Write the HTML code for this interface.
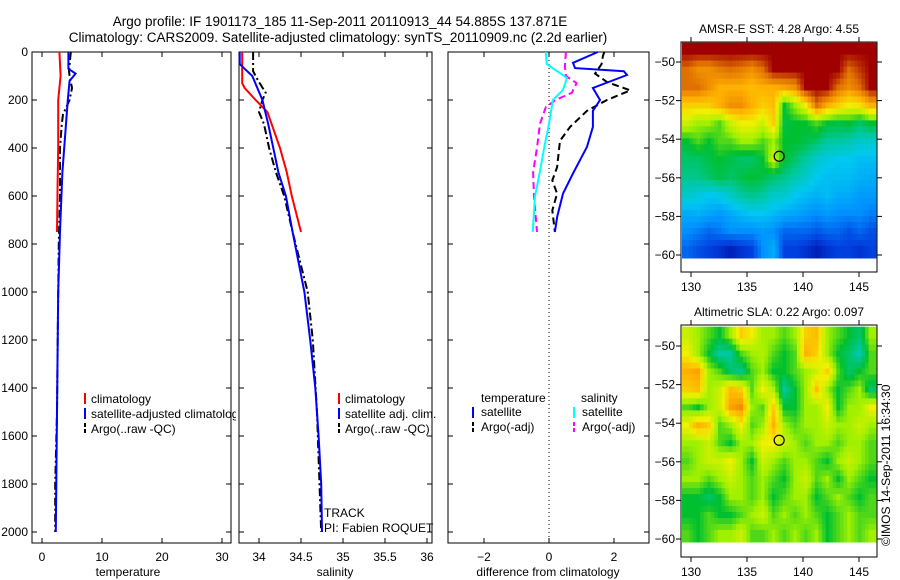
<!DOCTYPE html>
<html><head><meta charset="utf-8"><style>
html,body{margin:0;padding:0;background:#fff;}
svg{display:block;font-family:"Liberation Sans",sans-serif;}
</style></head><body>
<svg id="fig" width="900" height="580" viewBox="0 0 900 580">
<text x="340" y="26" font-size="13.5" text-anchor="middle">Argo profile: IF 1901173_185 11-Sep-2011 20110913_44 54.885S 137.871E</text>
<text x="338" y="42" font-size="13.5" text-anchor="middle">Climatology: CARS2009. Satellite-adjusted climatology: synTS_20110909.nc (2.2d earlier)</text>
<g id="g"></g>
</svg>
<script>
// ---------- DATA ----------
const tempClimDepth=[0,100,150,200,400,550,750];
const tempClimVal=[2.9,3.1,2.9,2.7,2.7,2.6,2.5];
const tempSatDepth=[0,70,90,120,200,300,500,750,1000,1500,2000];
const tempSatVal=[4.4,4.4,5.6,4.6,4.3,4.0,3.4,3.0,2.7,2.5,2.3];
const tempArgoDepth=[0,80,100,150,200,260,300,400,600,800,1000,1500,1800,2000];
const tempArgoVal=[4.8,4.5,4.6,5.0,4.6,3.5,3.3,3.0,3.0,2.8,2.7,2.5,2.2,2.2];
const salClimDepth=[0,130,150,200,250,400,500,600,750];
const salClimVal=[33.80,33.80,33.83,33.96,34.10,34.25,34.33,34.39,34.50];
const salSatDepth=[0,50,70,100,200,300,400,500,600,750,1000,1200,1400,1600,1800,2000];
const salSatVal=[33.77,33.77,33.83,33.92,34.04,34.11,34.17,34.23,34.32,34.40,34.54,34.61,34.67,34.71,34.74,34.75];
const salArgoDepth=[0,80,120,170,200,250,300,400,500,600,750,1000,1200,1500,1800,2000];
const salArgoVal=[33.93,33.93,33.99,34.08,34.04,34.00,34.06,34.12,34.20,34.30,34.40,34.58,34.64,34.69,34.72,34.74];
const dSalSatDepth=[0,50,108,158,200,300,400,500,600,750];
const dSalSatVal=[-0.1,-0.07,0.55,0.43,0.12,0.0,-0.15,-0.28,-0.43,-0.5];
const dSalArgoDepth=[0,60,100,130,170,200,230,300,400,500,600,700,750];
const dSalArgoVal=[0.52,0.49,0.52,0.85,0.7,0.2,-0.1,-0.28,-0.37,-0.49,-0.46,-0.4,-0.37];
const dTempSatDepth=[0,45,67,80,96,150,200,245,312,395,506,590,688,750];
const dTempSatVal=[1.5,0.74,0.8,2.3,2.4,1.35,1.57,1.35,1.35,1.17,0.74,0.43,0.25,0.18];
const dTempArgoDepth=[0,15,50,90,125,160,200,245,312,370,480,535,590,660,750];
const dTempArgoVal=[1.7,1.66,1.62,1.42,1.78,2.5,1.78,1.17,0.65,0.34,0.25,0.1,0.25,0.1,0.18];
const depthTicks=[0,200,400,600,800,1000,1200,1400,1600,1800,2000];
const tempTicks=[0,10,20,30];
const salTicks=[34,34.5,35,35.5,36];
const salTickLabels=["34","34.5","35","35.5","36"];
const diffTicks=[-2,0,2];
const latTicks=[-50,-52,-54,-56,-58,-60];
const lonTicks=[130,135,140,145];
const argoLon=137.871, argoLat=-54.885;
const sstGrid=[
[1,1,1,1,1,1,1,1,1,1,1,1,1,1,1,1,1,1],
[.9,.85,.85,.88,.9,.88,.85,.9,1,1,1,1,1,1,1,.9,.95,1],
[.9,.9,.85,.8,.8,.8,.78,.8,.8,.82,.85,1,1,1,.9,.85,.9,1],
[.75,.75,.75,.8,.85,.85,.8,.75,.78,.5,.6,.7,.9,.8,.75,.7,.72,.8],
[.65,.6,.6,.55,.65,.7,.7,.65,.75,.48,.5,.5,.55,.5,.48,.5,.45,.5],
[.5,.55,.5,.55,.55,.6,.6,.55,.6,.5,.5,.48,.45,.4,.4,.38,.35,.35],
[.45,.45,.48,.5,.48,.45,.45,.5,.65,.5,.45,.4,.35,.32,.3,.3,.28,.28],
[.42,.42,.45,.48,.45,.48,.5,.48,.45,.42,.38,.35,.3,.28,.28,.28,.26,.25],
[.35,.33,.3,.32,.35,.4,.42,.4,.35,.35,.3,.28,.26,.28,.25,.25,.22,.22],
[.25,.26,.24,.22,.25,.28,.3,.3,.28,.25,.24,.22,.2,.22,.2,.2,.2,.18],
[.2,.18,.15,.17,.2,.2,.2,.22,.2,.15,.15,.15,.13,.15,.15,.12,.15,.12],
[.15,.12,.1,.08,.05,.08,.1,.2,.25,.1,.1,.08,.05,.08,.1,.1,.08,.1]];
const slaGrid=[
[.65,.6,.55,.5,.6,.75,.7,.6,.6,.55,.6,.75,.78,.6,.55,.5,.45,.6],
[.7,.6,.5,.4,.4,.55,.6,.62,.55,.5,.55,.8,.75,.6,.5,.45,.38,.55],
[.8,.82,.6,.55,.45,.42,.55,.6,.5,.5,.55,.6,.65,.75,.55,.45,.5,.55],
[.75,.78,.6,.65,.78,.75,.55,.7,.62,.4,.5,.6,.78,.6,.5,.55,.6,.45],
[.55,.5,.6,.65,.82,.85,.6,.55,.75,.5,.5,.6,.6,.7,.5,.6,.6,.7],
[.7,.8,.75,.55,.6,.7,.55,.6,.8,.6,.55,.6,.6,.65,.6,.6,.65,.6],
[.6,.6,.65,.55,.5,.6,.6,.7,.7,.65,.6,.55,.6,.6,.55,.6,.6,.55],
[.55,.6,.65,.65,.7,.6,.5,.65,.6,.55,.6,.6,.55,.5,.6,.65,.6,.55],
[.6,.6,.55,.6,.65,.6,.55,.6,.55,.5,.6,.65,.55,.6,.5,.6,.55,.5],
[.5,.5,.45,.5,.6,.6,.55,.6,.5,.55,.6,.6,.5,.55,.6,.55,.5,.55],
[.5,.5,.55,.5,.5,.55,.6,.65,.55,.6,.55,.6,.55,.5,.55,.6,.55,.55],
[.55,.5,.55,.6,.6,.65,.55,.55,.6,.55,.6,.55,.6,.5,.55,.6,.55,.6]];

// ---------- HELPERS ----------
const NS="http://www.w3.org/2000/svg";
const G=document.getElementById('g');
function mk(tag,attrs,parent){const e=document.createElementNS(NS,tag);for(const k in attrs)e.setAttribute(k,attrs[k]);(parent||G).appendChild(e);return e;}
const depthY=d=>52+0.24*d;
const tempX=t=>42+6*t;
const salX=s=>259+84*(s-34);
const diffX=v=>549+32.5*v;
const PT=52,PB=543;

function panel(x0,x1,name){
  const r=mk('rect',{x:x0,y:PT,width:x1-x0,height:PB-PT,fill:'none',stroke:'#000','stroke-width':1});
  
  
  depthTicks.forEach(d=>{const y=depthY(d);mk('line',{x1:x0,x2:x0+5,y1:y,y2:y,stroke:'#000'});mk('line',{x1:x1,x2:x1-5,y1:y,y2:y,stroke:'#000'});});
}
function xticks(vals,labels,fx,name){
  vals.forEach((v,i)=>{const x=fx(v);mk('line',{x1:x,x2:x,y1:PT,y2:PT+5,stroke:'#000'});mk('line',{x1:x,x2:x,y1:PB,y2:PB-5,stroke:'#000'});
    const t=mk('text',{x:x,y:561,'font-size':12,'text-anchor':'middle'});t.textContent=labels[i];
    
    });
}
function series(dep,val,fx,color,dash,name){
  const pts=dep.map((d,i)=>fx(val[i]).toFixed(1)+','+depthY(d).toFixed(1)).join(' ');
  const p=mk('polyline',{points:pts,fill:'none',stroke:color,'stroke-width':2});
  if(dash)p.setAttribute('stroke-dasharray',dash);
  
  
}
function label(x,y,txt,name,opts){
  const t=mk('text',Object.assign({x:x,y:y,'font-size':12},opts||{}));t.textContent=txt;
  
  
  return t;
}
function legMark(x,y,color,dash){const l=mk('line',{x1:x,x2:x,y1:y-10,y2:y+1,stroke:color,'stroke-width':2});if(dash)l.setAttribute('stroke-dasharray',dash);}

// ---------- PANEL 1: temperature ----------
panel(32,231,'temperature-panel');
depthTicks.forEach(d=>{label(28,depthY(d)+4,String(d),'depth-tick-label',{'text-anchor':'end'});});
xticks(tempTicks,tempTicks.map(String),tempX,'temperature');
series(tempClimDepth,tempClimVal,tempX,'#f00',null,'temp-climatology-line');
series(tempArgoDepth,tempArgoVal,tempX,'#000','8,3,2,3','temp-argo-line');
series(tempSatDepth,tempSatVal,tempX,'#00f',null,'temp-satellite-line');
label(128,576,'temperature','temperature-axis-title',{'text-anchor':'middle'});
mk('clipPath',{id:'c1'});mk('rect',{x:32,y:52,width:204,height:500},document.getElementById('c1'));
const lg1=mk('g',{'clip-path':'url(#c1)'});
[['#f00',null,'climatology'],['#00f',null,'satellite-adjusted climatology'],['#000','4,2','Argo(..raw -QC)']].forEach((e,i)=>{
  const y=403+15*i;legMark(85,y,e[0],e[1]);
  const t=mk('text',{x:91,y:y,'font-size':12},lg1);t.textContent=e[2];
  
  
});

// ---------- PANEL 2: salinity ----------
panel(239,432,'salinity-panel');
xticks(salTicks,salTickLabels,salX,'salinity');
series(salClimDepth,salClimVal,salX,'#f00',null,'sal-climatology-line');
series(salArgoDepth,salArgoVal,salX,'#000','8,3,2,3','sal-argo-line');
series(salSatDepth,salSatVal,salX,'#00f',null,'sal-satellite-line');
label(335,576,'salinity','salinity-axis-title',{'text-anchor':'middle'});
[['#f00',null,'climatology'],['#00f',null,'satellite adj. clim.'],['#000','4,2','Argo(..raw -QC)']].forEach((e,i)=>{
  const y=403+15*i;legMark(339,y,e[0],e[1]);label(345,y,e[2],'sal-legend-entry');
});
label(324,517,'TRACK','track-label');
label(324,532,'PI: Fabien ROQUET','pi-label');

// ---------- PANEL 3: difference ----------
panel(448,649,'difference-panel');
xticks(diffTicks,diffTicks.map(v=>v<0?'\u2212'+Math.abs(v):String(v)),diffX,'difference');
mk('line',{x1:diffX(0),x2:diffX(0),y1:PT,y2:PB,stroke:'#000','stroke-dasharray':'1,3'});
series(dSalArgoDepth,dSalArgoVal,diffX,'#f0f','7,4','diff-sal-argo-line');
series(dTempArgoDepth,dTempArgoVal,diffX,'#000','7,4','diff-temp-argo-line');
series(dTempSatDepth,dTempSatVal,diffX,'#00f',null,'diff-temp-satellite-line');
series(dSalSatDepth,dSalSatVal,diffX,'#0ff',null,'diff-sal-satellite-line');
label(548,576,'difference from climatology','difference-axis-title',{'text-anchor':'middle'});
label(481,402,'temperature','legend-temperature-header');
label(581,402,'salinity','legend-salinity-header');
legMark(473,417,'#00f');label(481,416,'satellite','legend-temp-satellite');
legMark(473,432,'#000','4,2');label(481,431,'Argo(-adj)','legend-temp-argo');
legMark(574,417,'#0ff');label(582,416,'satellite','legend-sal-satellite');
legMark(574,432,'#f0f','4,2');label(582,431,'Argo(-adj)','legend-sal-argo');

// ---------- MAPS ----------
const cstops=[[0,[0,0,143]],[.1,[0,64,224]],[.2,[0,144,255]],[.3,[0,200,240]],[.4,[0,200,160]],[.5,[0,192,48]],[.6,[160,240,0]],[.7,[240,240,0]],[.8,[255,176,0]],[.9,[224,112,0]],[1,[160,0,0]]];
function cmap(v){for(let i=1;i<cstops.length;i++){if(v<=cstops[i][0]){const a=cstops[i-1],b=cstops[i],f=(v-a[0])/(b[0]-a[0]);return 'rgb('+a[1].map((c,k)=>Math.round(c+(b[1][k]-c)*f)).join(',')+')';}}return 'rgb(160,0,0)';}
function sample(grid,fr,fc){
  const nr=grid.length,nc=grid[0].length;
  const r=Math.min(Math.max(fr-0.5,0),nr-1),c=Math.min(Math.max(fc-0.5,0),nc-1);
  const r0=Math.floor(r),c0=Math.floor(c),r1=Math.min(r0+1,nr-1),c1=Math.min(c0+1,nc-1);
  const a=r-r0,b=c-c0;
  return grid[r0][c0]*(1-a)*(1-b)+grid[r0][c1]*(1-a)*b+grid[r1][c0]*a*(1-b)+grid[r1][c1]*a*b;
}
function drawMap(top,bottom,lat50y,lat60y,grid,title,name){
  const L=681,R=877;
  const lonX=lon=>691+11.2*(lon-130);
  const latY=lat=>lat50y+(lat60y-lat50y)*(-50-lat)/10;
  const lon0=129.2,lon1=146.5,la0=-49.0,la1=-60.15;
  const nr=grid.length,nc=grid[0].length,S=3;
  const g=mk('g',{});
  
  
  for(let r=0;r<nr*S;r++)for(let c=0;c<nc*S;c++){
    const v=sample(grid,(r+0.5)/S,(c+0.5)/S);
    const xa=lonX(lon0+(lon1-lon0)*c/(nc*S)),xb=lonX(lon0+(lon1-lon0)*(c+1)/(nc*S));
    const ya=latY(la0+(la1-la0)*r/(nr*S)),yb=latY(la0+(la1-la0)*(r+1)/(nr*S));
    const cell=mk('rect',{x:xa.toFixed(1),y:ya.toFixed(1),width:(xb-xa+0.6).toFixed(1),height:(yb-ya+0.6).toFixed(1),fill:cmap(v)},g);
    
    
  }
  const fr=mk('rect',{x:L,y:top,width:R-L,height:bottom-top,fill:'none',stroke:'#000'});
  
  
  latTicks.forEach(la=>{const y=latY(la);mk('line',{x1:L-5,x2:L,y1:y,y2:y,stroke:'#000'});mk('line',{x1:R,x2:R+5,y1:y,y2:y,stroke:'#000'});
    label(L-6,y+4,'\u2212'+Math.abs(la),name+'-lat-label',{'text-anchor':'end'});});
  lonTicks.forEach(lo=>{const x=lonX(lo);mk('line',{x1:x,x2:x,y1:top-5,y2:top,stroke:'#000'});mk('line',{x1:x,x2:x,y1:bottom,y2:bottom+5,stroke:'#000'});
    label(x,bottom+19,String(lo),name+'-lon-label',{'text-anchor':'middle'});});
  const c=mk('circle',{cx:lonX(argoLon),cy:latY(argoLat),r:5,fill:'none',stroke:'#000','stroke-width':1.2});
  
  
  label((L+R)/2,top-9,title,name+'-title',{'text-anchor':'middle'});
}
drawMap(42,272,62,255,sstGrid,'AMSR-E SST: 4.28 Argo: 4.55','sst-map');
drawMap(325,557,346,539,slaGrid,'Altimetric SLA: 0.22 Argo: 0.097','sla-map');
label(0,0,'\u00a9IMOS 14-Sep-2011 16:34:30','imos-credit',{transform:'translate(890,546) rotate(-90)'});
</script>
</body></html>
